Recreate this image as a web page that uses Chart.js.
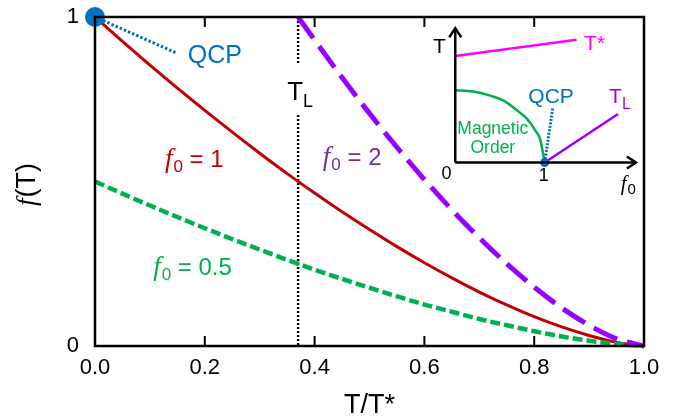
<!DOCTYPE html>
<html><head><meta charset="utf-8">
<script src="https://cdn.jsdelivr.net/npm/chart.js@4/dist/chart.umd.min.js"></script>
<style>
html,body{margin:0;padding:0;background:#fff;}
#wrap{position:relative;width:676px;height:416px;overflow:hidden;}
#main{position:absolute;left:0;top:0;}
#inset{position:absolute;left:420px;top:20px;}
</style></head><body>
<div id="wrap"><canvas id="main" width="676" height="416"></canvas><canvas id="inset" width="235" height="185"></canvas></div>
<script>
// ---------- main chart data ----------
const tValues = [0,0.05,0.1,0.15,0.2,0.25,0.3,0.35,0.4,0.45,0.5,0.55,0.6,0.65,0.7,0.75,0.8,0.85,0.9,0.95,1];
const fRed    = [1,0.926,0.854,0.784,0.716,0.650,0.586,0.524,0.465,0.408,0.354,0.302,0.253,0.207,0.164,0.125,0.089,0.058,0.032,0.011,0];   // f0 = 1
const fGreen  = [0.5,0.463,0.427,0.392,0.358,0.325,0.293,0.262,0.232,0.204,0.177,0.151,0.126,0.104,0.082,0.063,0.045,0.029,0.016,0.006,0]; // f0 = 0.5
const tPurple = [0.37,0.4,0.45,0.5,0.55,0.6,0.65,0.7,0.75,0.8,0.85,0.9,0.95,1];
const fPurple = [1,0.93,0.816,0.707,0.604,0.506,0.414,0.329,0.25,0.179,0.116,0.063,0.022,0];  // f0 = 2
const xTicks = [0,0.2,0.4,0.6,0.8,1.0];
const yTicks = [0,1];
const qcpT = [0];      const qcpF = [1];
const qcpLeadT = [0,0.149]; const qcpLeadF = [1,0.89];
const tL = 0.37;
const tLUpper = [1,0.854];
const tLLower = [0.702,0];

// ---------- inset data ----------
const starF0 = [0,1.355];  const starT = [1.12,1.29];
const domeF0 = [0,0.2,0.4,0.55,0.7,0.8,0.9,0.95,1];
const domeT  = [0.76,0.745,0.70,0.645,0.54,0.46,0.33,0.24,0];
const tlF0 = [1,1.82];     const tlT = [0,0.51];
const qcpLineF0 = [1,1.09]; const qcpLineT = [0,0.57];
const qcpInF0 = [1];       const qcpInT = [0];

const SANS = '"Liberation Sans", Arial, sans-serif';
const SERIF = '"Liberation Serif", "Times New Roman", serif';
const BLUE = '#0070C0', RED = '#C00000', GREEN = '#00B050', VIOLET = '#9900FF', PURPLE_TXT = '#7030A0', MAGENTA = '#FF00FF';

const pts = (xs, ys) => xs.map((x, i) => ({x, y: ys[i]}));

function rich(ctx, parts, x, y, align) {
  let total = 0;
  parts.forEach(p => { ctx.font = p.font; total += ctx.measureText(p.text).width + (p.gap || 0); });
  let cx = align === 'center' ? x - total / 2 : x;
  ctx.textAlign = 'left'; ctx.textBaseline = 'alphabetic';
  parts.forEach(p => {
    ctx.font = p.font; ctx.fillStyle = p.color;
    ctx.fillText(p.text, cx, y + (p.dy || 0));
    cx += ctx.measureText(p.text).width + (p.gap || 0);
  });
}
function f0Label(color, rest) {
  return [
    {text: 'f', font: 'italic 27px ' + SERIF, color, gap: 1},
    {text: '0', font: '17px ' + SANS, color, dy: 5, gap: 0},
    {text: rest, font: '24px ' + SANS, color}
  ];
}

const mainDecor = {
  id: 'mainDecor',
  afterDatasetsDraw(chart) {
    const {ctx, chartArea: a, scales: {x, y}} = chart;
    ctx.save();
    ctx.strokeStyle = '#000'; ctx.lineWidth = 2.5; ctx.setLineDash([]);
    ctx.strokeRect(a.left, a.top, a.right - a.left, a.bottom - a.top);
    ctx.lineWidth = 2;
    xTicks.slice(1, -1).forEach(v => {
      const px = x.getPixelForValue(v);
      ctx.beginPath(); ctx.moveTo(px, a.bottom); ctx.lineTo(px, a.bottom - 10); ctx.stroke();
      ctx.beginPath(); ctx.moveTo(px, a.top); ctx.lineTo(px, a.top + 10); ctx.stroke();
    });
    ctx.beginPath(); ctx.moveTo(a.left, y.getPixelForValue(0)); ctx.lineTo(a.left + 12, y.getPixelForValue(0)); ctx.stroke();
    const X = v => x.getPixelForValue(v), Y = v => y.getPixelForValue(v);
    rich(ctx, [{text: 'QCP', font: '25px ' + SANS, color: BLUE}], X(0.169), Y(0.86));
    rich(ctx, [{text: 'T', font: '26px ' + SANS, color: '#000', gap: 0},
               {text: 'L', font: '18px ' + SANS, color: '#000', dy: 7}], X(0.350), Y(0.748));
    rich(ctx, f0Label(RED, ' = 1'), X(0.1275), Y(0.544));
    rich(ctx, f0Label(PURPLE_TXT, ' = 2'), X(0.415), Y(0.55));
    rich(ctx, f0Label(GREEN, ' = 0.5'), X(0.106), Y(0.216));
    rich(ctx, [{text: 'T/T*', font: '27px ' + SANS, color: '#000'}], (a.left + a.right) / 2, 413, 'center');
    ctx.translate(35, (a.top + a.bottom) / 2 + 3);
    ctx.rotate(-Math.PI / 2);
    rich(ctx, [{text: 'f', font: 'italic 27px ' + SERIF, color: '#000', gap: 1},
               {text: '(T)', font: '27px ' + SANS, color: '#000'}], 0, 0, 'center');
    ctx.restore();
  }
};

new Chart(document.getElementById('main'), {
  type: 'line',
  data: {
    datasets: [
      {data: pts(qcpT, qcpF), showLine: false, pointRadius: 10, pointBackgroundColor: BLUE, pointBorderWidth: 0, clip: false},
      {data: pts(qcpLeadT, qcpLeadF), borderColor: BLUE, borderWidth: 3, borderDash: [2.5, 2], pointRadius: 0},
      {data: pts(tPurple, fPurple), borderColor: VIOLET, borderWidth: 5, borderDash: [26, 10], pointRadius: 0, cubicInterpolationMode: 'monotone', clip: 6},
      {data: pts(tValues, fGreen), borderColor: GREEN, borderWidth: 4.5, borderDash: [10, 4], pointRadius: 0, cubicInterpolationMode: 'monotone', clip: 6},
      {data: pts(tValues, fRed), borderColor: RED, borderWidth: 3, pointRadius: 0, cubicInterpolationMode: 'monotone', clip: 6},
      {data: pts([tL, tL], tLUpper), borderColor: '#000', borderWidth: 2.5, borderDash: [2, 2], pointRadius: 0},
      {data: pts([tL, tL], tLLower), borderColor: '#000', borderWidth: 2.5, borderDash: [2, 2], pointRadius: 0}
    ]
  },
  options: {
    responsive: false, animation: false, devicePixelRatio: 1,
    layout: {padding: {top: 17, right: 32, left: 0, bottom: 0}},
    plugins: {legend: {display: false}, tooltip: {enabled: false}},
    scales: {
      x: {
        type: 'linear', min: 0, max: 1,
        afterBuildTicks: s => { s.ticks = xTicks.map(v => ({value: v})); },
        afterFit: s => { s.height = 70; s.paddingLeft = 0; s.paddingRight = 0; },
        grid: {display: false, drawTicks: false}, border: {display: false},
        ticks: {font: {family: SANS, size: 22}, color: '#000', padding: 9, maxRotation: 0,
                callback: v => Number(v).toFixed(1)}
      },
      y: {
        type: 'linear', min: 0, max: 1,
        afterBuildTicks: s => { s.ticks = yTicks.map(v => ({value: v})); },
        afterFit: s => { s.width = 95; s.paddingTop = 0; s.paddingBottom = 0; },
        grid: {display: false, drawTicks: false}, border: {display: false},
        ticks: {font: {family: SANS, size: 22}, color: '#000', padding: 16, callback: v => String(v)}
      }
    }
  },
  plugins: [mainDecor]
});

// ---------- inset ----------
const insetDecor = {
  id: 'insetDecor',
  afterDatasetsDraw(chart) {
    const {ctx, scales: {x, y}} = chart;
    const X = v => x.getPixelForValue(v), Y = v => y.getPixelForValue(v);
    ctx.save();
    ctx.strokeStyle = '#000'; ctx.lineWidth = 2.5; ctx.setLineDash([]); ctx.lineJoin = 'miter';
    const ox = X(0), oy = Y(0), ty = Y(1.41), rx = X(2.02);
    ctx.beginPath(); ctx.moveTo(ox, oy); ctx.lineTo(ox, ty); ctx.stroke();
    ctx.beginPath(); ctx.moveTo(ox, oy); ctx.lineTo(rx, oy); ctx.stroke();
    ctx.beginPath(); ctx.moveTo(ox - 6, ty + 9); ctx.lineTo(ox, ty); ctx.lineTo(ox + 6, ty + 9); ctx.stroke();
    ctx.beginPath(); ctx.moveTo(rx - 9, oy - 6); ctx.lineTo(rx, oy); ctx.lineTo(rx - 9, oy + 6); ctx.stroke();
    rich(ctx, [{text: 'T', font: '21px ' + SANS, color: '#000'}], X(-0.177), Y(1.15), 'center');
    rich(ctx, [{text: 'T*', font: '21px ' + SANS, color: MAGENTA}], X(1.44), Y(1.18));
    rich(ctx, [{text: 'QCP', font: '21px ' + SANS, color: BLUE}], X(0.817), Y(0.62));
    rich(ctx, [{text: 'T', font: '21px ' + SANS, color: VIOLET, gap: 0},
               {text: 'L', font: '16px ' + SANS, color: VIOLET, dy: 6}], X(1.72), Y(0.62));
    rich(ctx, [{text: 'Magnetic', font: '17.5px ' + SANS, color: GREEN}], X(0.42), Y(0.30), 'center');
    rich(ctx, [{text: 'Order', font: '17.5px ' + SANS, color: GREEN}], X(0.42), Y(0.10), 'center');
    rich(ctx, [{text: '0', font: '18px ' + SANS, color: '#000'}], X(-0.097), Y(-0.17), 'center');
    rich(ctx, [{text: '1', font: '18px ' + SANS, color: '#000'}], X(0.99), Y(-0.20), 'center');
    rich(ctx, [{text: 'f', font: 'italic 21px ' + SERIF, color: '#000', gap: 1},
               {text: '0', font: '15px ' + SANS, color: '#000', dy: 4}], X(1.85), Y(-0.29));
    ctx.restore();
  }
};

new Chart(document.getElementById('inset'), {
  type: 'line',
  data: {
    datasets: [
      {data: pts(qcpInF0, qcpInT), showLine: false, pointRadius: 4.5, pointBackgroundColor: BLUE, pointBorderWidth: 0, clip: false},
      {data: pts(qcpLineF0, qcpLineT), borderColor: BLUE, borderWidth: 3, borderDash: [2, 1.5], pointRadius: 0},
      {data: pts(starF0, starT), borderColor: MAGENTA, borderWidth: 2.5, pointRadius: 0},
      {data: pts(domeF0, domeT), borderColor: GREEN, borderWidth: 2.5, pointRadius: 0, cubicInterpolationMode: 'monotone'},
      {data: pts(tlF0, tlT), borderColor: VIOLET, borderWidth: 2.5, pointRadius: 0}
    ]
  },
  options: {
    responsive: false, animation: false, devicePixelRatio: 1,
    layout: {padding: 0},
    plugins: {legend: {display: false}, tooltip: {enabled: false}},
    scales: {
      x: {type: 'linear', min: -0.344, max: 2.183, display: false},
      y: {type: 'linear', min: -0.40, max: 1.45, display: false}
    }
  },
  plugins: [insetDecor]
});
</script>
</body></html>
